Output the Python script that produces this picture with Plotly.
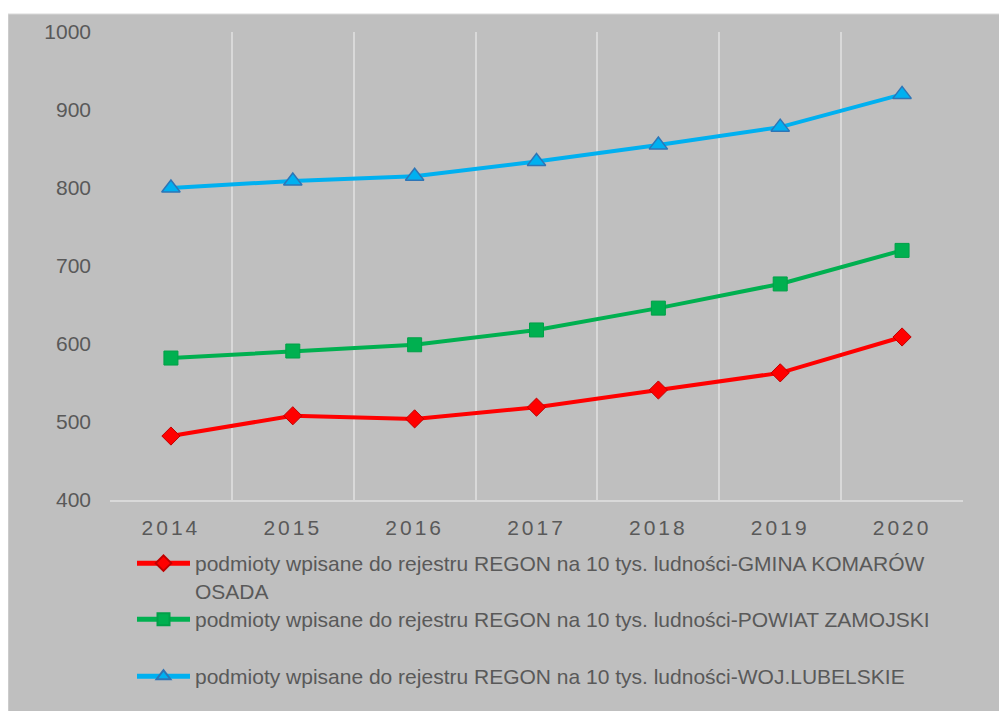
import plotly.graph_objects as go

years = [2014, 2015, 2016, 2017, 2018, 2019, 2020]
gmina = [482, 508, 504, 519, 541, 563, 609]
powiat = [582, 591, 599, 618, 646, 677, 720]
woj = [800, 809, 815, 834, 855, 878, 920]

names = [
    "podmioty wpisane do rejestru REGON na 10 tys. ludności-GMINA KOMARÓW<br>OSADA",
    "podmioty wpisane do rejestru REGON na 10 tys. ludności-POWIAT ZAMOJSKI",
    "podmioty wpisane do rejestru REGON na 10 tys. ludności-WOJ.LUBELSKIE",
]

# page is rendered with an 8px body margin; work in reference page coords and shift
OFF = 8
W, H = 1007 - OFF, 711 - OFF
L, R, T, B = 110 - OFF, 963 - OFF, 32 - OFF, 500 - OFF
pw, ph = R - L, B - T

def px(x):
    return (x - OFF - L) / pw

def py(y):
    return (B - (y - OFF)) / ph

fig = go.Figure()
fig.add_trace(go.Scatter(
    x=years, y=gmina, name=names[0], mode="lines+markers",
    line=dict(color="#FF0000", width=4),
    marker=dict(symbol="diamond", size=14, color="#FF0000", line=dict(color="#C00000", width=1)),
    legend="legend",
))
fig.add_trace(go.Scatter(
    x=years, y=powiat, name=names[1], mode="lines+markers",
    line=dict(color="#00B050", width=4),
    marker=dict(symbol="square", size=14, color="#00B050", line=dict(color="#00A048", width=1)),
    legend="legend2",
))
fig.add_trace(go.Scatter(
    x=years, y=woj, name=names[2], mode="lines+markers",
    line=dict(color="#00B0F0", width=4),
    marker=dict(symbol="triangle-up", size=16, color="#00B0F0", line=dict(color="#2E75B6", width=1.5)),
    legend="legend3",
))

font = dict(family="Liberation Sans, Arial, sans-serif", size=21, color="#595959")
legend_common = dict(font=font, bgcolor="rgba(0,0,0,0)", itemwidth=53, x=px(132),
                     xanchor="left", yanchor="top", valign="top", itemclick=False,
                     itemsizing="constant")

fig.update_layout(
    width=W, height=H,
    margin=dict(l=L, r=W - R, t=T, b=H - B, pad=0),
    paper_bgcolor="white",
    plot_bgcolor="#BFBFBF",
    font=font,
    showlegend=True,
    xaxis=dict(
        range=[2013.5, 2020.5], tickvals=years,
        ticktext=['<span style="letter-spacing:3px">%d</span>' % y for y in years],
        showgrid=False, zeroline=False, showline=True, linecolor="#D9D9D9", linewidth=2,
        ticks="", ticklabelstandoff=8, tickfont=font,
        minor=dict(tickvals=[2013.5 + i for i in range(8)], showgrid=True,
                   gridcolor="#D9D9D9", gridwidth=2, ticks=""),
    ),
    yaxis=dict(
        range=[400, 1000], tickvals=[400, 500, 600, 700, 800, 900, 1000],
        showgrid=False, zeroline=False, showline=False, ticks="",
        ticklabelstandoff=18, tickfont=font,
    ),
    legend=dict(y=py(543), **legend_common),
    legend2=dict(y=py(599), **legend_common),
    legend3=dict(y=py(656), **legend_common),
    shapes=[dict(type="rect", xref="paper", yref="paper",
                 x0=px(8), x1=px(1012), y0=py(720), y1=py(14),
                 fillcolor="#BFBFBF", line=dict(color="#D9D9D9", width=1), layer="below")],
)

fig.write_html("out.html")
